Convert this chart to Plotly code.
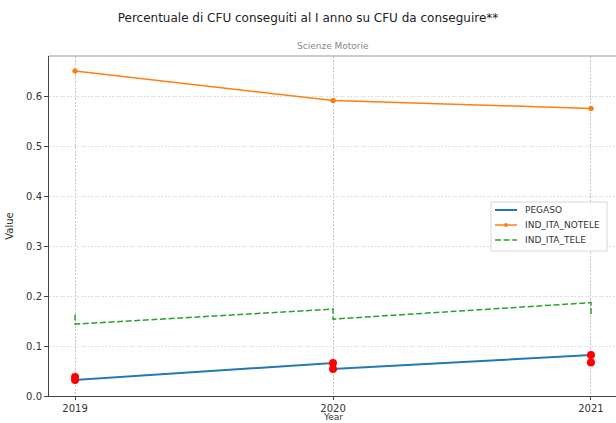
import plotly.graph_objects as go

years = [2019, 2019, 2020, 2020, 2021, 2021]
pegaso = [0.038, 0.032, 0.066, 0.054, 0.082, 0.067]
ind_ita_notele = [0.651, 0.651, 0.592, 0.592, 0.576, 0.576]
ind_ita_tele = [0.163, 0.144, 0.174, 0.154, 0.187, 0.161]
series_names = ["PEGASO", "IND_ITA_NOTELE", "IND_ITA_TELE"]
x_ticks = [2019, 2020, 2021]
y_ticks = [0.0, 0.1, 0.2, 0.3, 0.4, 0.5, 0.6]

FONT = "DejaVu Sans"
W, H = 616, 423
L, R, T, B = 49, 0, 56, 27
PW, PH = W - L - R, H - T - B
DASH = "6px,2.6px"


def px(xp):
    return (xp - L) / PW


def py(yp):
    return (H - B - yp) / PH


styles = [
    dict(color="#1f77b4", width=2, dash="solid", marker=False),
    dict(color="#ff7f0e", width=1.5, dash="solid", marker=True),
    dict(color="#2ca02c", width=1.5, dash=DASH, marker=False),
]

fig = go.Figure()
fig.add_trace(go.Scatter(x=years, y=pegaso, mode="lines", name=series_names[0],
                         line=dict(color="#1f77b4", width=2)))
fig.add_trace(go.Scatter(x=years, y=ind_ita_notele, mode="lines+markers", name=series_names[1],
                         line=dict(color="#ff7f0e", width=1.5),
                         marker=dict(color="#ff7f0e", size=5)))
fig.add_trace(go.Scatter(x=years, y=ind_ita_tele, mode="lines", name=series_names[2],
                         line=dict(color="#2ca02c", width=1.5, dash=DASH)))
fig.add_trace(go.Scatter(x=years, y=pegaso, mode="markers", showlegend=False,
                         marker=dict(color="red", size=8)))

# legend box (matplotlib-like, compact)
shapes = [
    dict(type="line", xref="paper", yref="paper", x0=0, x1=1, y0=1, y1=1,
         line=dict(color="#999999", width=1)),
    dict(type="rect", xref="paper", yref="paper", x0=px(491), x1=px(607), y0=py(251), y1=py(202),
         fillcolor="rgba(255,255,255,0.85)", line=dict(color="#d6d6d6", width=1)),
]
annotations = [
    dict(text="Scienze Motorie", xref="paper", yref="paper", x=0.5, y=1.0,
         xanchor="center", yanchor="bottom", yshift=3, showarrow=False,
         font=dict(family=FONT, size=9, color="#888888")),
    dict(text="Year", xref="paper", yref="paper", x=0.5, y=0, yshift=-14,
         xanchor="center", yanchor="top", showarrow=False,
         font=dict(family=FONT, size=9, color="#333333")),
]
row_y = [210, 225, 240]
for name, st, ry in zip(series_names, styles, row_y):
    shapes.append(dict(type="line", xref="paper", yref="paper", x0=px(495), x1=px(517),
                       y0=py(ry), y1=py(ry),
                       line=dict(color=st["color"], width=st["width"], dash=st["dash"])))
    if st["marker"]:
        shapes.append(dict(type="circle", xref="paper", yref="paper",
                           x0=px(504), x1=px(508), y0=py(ry + 2), y1=py(ry - 2),
                           fillcolor=st["color"], line=dict(color=st["color"], width=0)))
    annotations.append(dict(text=name, xref="paper", yref="paper", x=px(523), y=py(ry),
                            xanchor="left", yanchor="middle", showarrow=False,
                            font=dict(family=FONT, size=9, color="#333333")))

fig.update_layout(
    width=W, height=H,
    margin=dict(l=L, r=R, t=T, b=B, autoexpand=False),
    paper_bgcolor="white", plot_bgcolor="white",
    font=dict(family=FONT, size=10, color="#333333"),
    title=dict(text="Percentuale di CFU conseguiti al I anno su CFU da conseguire**",
               x=0.5, xanchor="center", y=1 - 18 / H, yanchor="middle",
               font=dict(family=FONT, size=12, color="#222222")),
    showlegend=False,
    annotations=annotations,
    shapes=shapes,
)
fig.update_xaxes(range=[2018.899, 2021.097], tickvals=x_ticks, ticktext=[str(v) for v in x_ticks],
                 automargin=False,
                 showgrid=True, gridcolor="#c4c4c4", griddash="2px,1.5px", gridwidth=0.8,
                 showline=True, linecolor="#444444", linewidth=1,
                 ticks="outside", ticklen=3, tickcolor="#444444",
                 tickfont=dict(family=FONT, size=10, color="#333333"),
                 zeroline=False)
fig.update_yaxes(range=[0, 0.681], tickvals=y_ticks, ticktext=[f"{v:.1f}" for v in y_ticks],
                 automargin=False,
                 showgrid=True, gridcolor="#dedede", griddash="2px,1.5px", gridwidth=0.8,
                 showline=True, linecolor="#444444", linewidth=1,
                 ticks="outside", ticklen=4, tickcolor="#444444",
                 tickfont=dict(family=FONT, size=10, color="#333333"),
                 title=dict(text="Value", standoff=10, font=dict(family=FONT, size=10, color="#333333")),
                 zeroline=False)

fig.write_html("out.html", config={"displayModeBar": False},
               post_script="document.body.style.margin='0';document.body.style.overflow='hidden';")
